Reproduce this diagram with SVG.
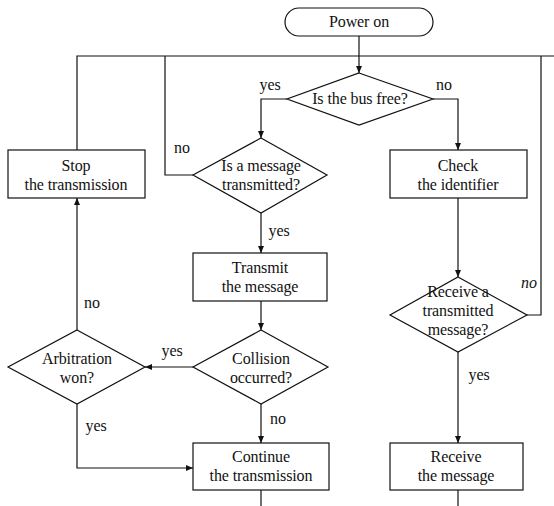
<svg xmlns="http://www.w3.org/2000/svg" width="554" height="506" viewBox="0 0 554 506" font-family="Liberation Serif, Times New Roman, DejaVu Serif, serif">
<style>
.s{fill:#fff;stroke:#111;stroke-width:1.2}
.c{fill:none;stroke:#111;stroke-width:1.2}
text{font-family:'Liberation Serif','Times New Roman','DejaVu Serif',serif;font-size:16px;fill:#111;text-anchor:middle;letter-spacing:-0.1px}
.i{font-style:italic}
</style>
<defs>
<marker id="a" markerUnits="userSpaceOnUse" markerWidth="8" markerHeight="8" refX="7" refY="4" orient="auto">
<path d="M0,1 L7,4 L0,7 Z" fill="#111"/>
</marker>
</defs>
<g id="connectors">
<line class="c" x1="359" y1="36" x2="359" y2="73" marker-end="url(#a)"/>
<polyline class="c" points="77,150 77,56 554,56"/>
<polyline class="c" points="287,99 261,99 261,138" marker-end="url(#a)"/>
<polyline class="c" points="433,99 458,99 458,150" marker-end="url(#a)"/>
<polyline class="c" points="193,175 165,175 165,56"/>
<line class="c" x1="261" y1="213" x2="261" y2="253" marker-end="url(#a)"/>
<line class="c" x1="261" y1="301" x2="261" y2="330" marker-end="url(#a)"/>
<line class="c" x1="193" y1="367" x2="145" y2="367" marker-end="url(#a)"/>
<line class="c" x1="77" y1="330" x2="77" y2="198" marker-end="url(#a)"/>
<polyline class="c" points="77,404 77,468 193,468" marker-end="url(#a)"/>
<line class="c" x1="261" y1="404" x2="261" y2="443" marker-end="url(#a)"/>
<line class="c" x1="261" y1="490" x2="261" y2="506"/>
<line class="c" x1="458" y1="198" x2="458" y2="277" marker-end="url(#a)"/>
<polyline class="c" points="527,315 541,315 541,56"/>
<line class="c" x1="458" y1="352" x2="458" y2="443" marker-end="url(#a)"/>
<line class="c" x1="458" y1="490" x2="458" y2="506"/>
<text x="270" y="90">yes</text>
<text x="444" y="90">no</text>
<text x="182" y="153">no</text>
<text x="279" y="236">yes</text>
<text x="172" y="356">yes</text>
<text x="92" y="308">no</text>
<text x="96" y="431">yes</text>
<text x="278" y="424">no</text>
<text class="i" x="529" y="288">no</text>
<text x="479" y="380">yes</text>
</g>
<g id="power">
<rect class="s" x="285" y="8" width="148" height="28" rx="14"/>
<text x="359" y="27">Power on</text>
</g>
<g id="busfree">
<polygon class="s" points="359,73 433,99 359,125 287,99"/>
<text x="360" y="104">Is the bus free?</text>
</g>
<g id="msgtx">
<polygon class="s" points="261,138 327,175 261,213 193,175"/>
<text x="261" y="171">Is a message</text>
<text x="261" y="190">transmitted?</text>
</g>
<g id="stop">
<rect class="s" x="8" y="150" width="137" height="48"/>
<text x="76" y="171">Stop</text>
<text x="76" y="190">the transmission</text>
</g>
<g id="transmit">
<rect class="s" x="193" y="253" width="134" height="48"/>
<text x="260" y="273">Transmit</text>
<text x="260" y="292">the message</text>
</g>
<g id="collision">
<polygon class="s" points="261,330 328,367 261,404 193,367"/>
<text x="261" y="364">Collision</text>
<text x="261" y="383">occurred?</text>
</g>
<g id="arbitration">
<polygon class="s" points="77,330 145,367 77,404 8,367"/>
<text x="77" y="364">Arbitration</text>
<text x="77" y="383">won?</text>
</g>
<g id="continue">
<rect class="s" x="193" y="443" width="136" height="47"/>
<text x="261" y="462">Continue</text>
<text x="261" y="481">the transmission</text>
</g>
<g id="check">
<rect class="s" x="390" y="150" width="137" height="48"/>
<text x="458" y="171">Check</text>
<text x="458" y="190">the identifier</text>
</g>
<g id="receivetx">
<polygon class="s" points="458,277 527,315 458,352 390,315"/>
<text x="458" y="297">Receive a</text>
<text x="458" y="316">transmitted</text>
<text x="458" y="335">message?</text>
</g>
<g id="receive">
<rect class="s" x="390" y="443" width="133" height="47"/>
<text x="456" y="462">Receive</text>
<text x="456" y="481">the message</text>
</g>
</svg>
